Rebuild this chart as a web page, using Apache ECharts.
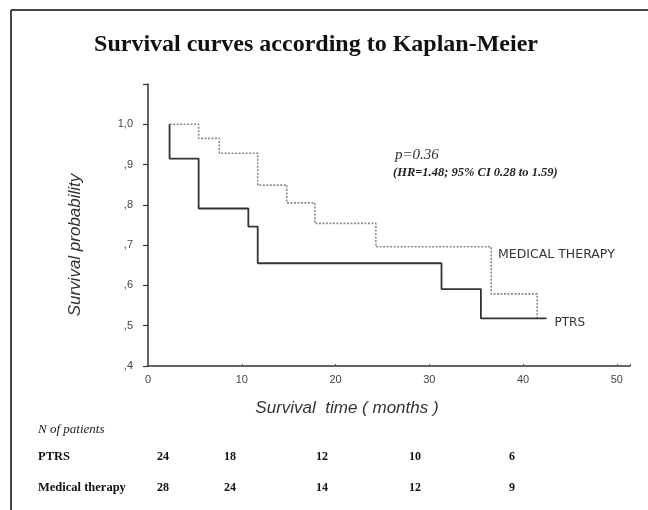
<!DOCTYPE html>
<html><head><meta charset="utf-8">
<script src="https://cdn.jsdelivr.net/npm/echarts@6/dist/echarts.min.js"></script>
<style>html,body{margin:0;padding:0;background:#fff}#c{width:648px;height:510px}</style>
</head><body><div id="c"></div>
<script>
// Kaplan-Meier step points [months, survival probability]
const ptrsCurve = [[2.3,1.0],[2.3,0.915],[5.4,0.791],[10.7,0.746],[11.7,0.655],[31.3,0.591],[35.5,0.518],[42.5,0.518]];
const medicalCurve = [[2.3,1.0],[5.4,0.965],[7.6,0.928],[11.7,0.849],[14.8,0.805],[17.8,0.754],[24.3,0.696],[36.6,0.579],[41.5,0.518]];
const seriesNames = ['PTRS','MEDICAL THERAPY'];
const tableRows = ['PTRS','Medical therapy'];
const ptrsAtRisk = [24,18,12,10,6];
const medicalAtRisk = [28,24,14,12,9];
const yTickLabels = {'0.4':',4','0.5':',5','0.6':',6','0.7':',7','0.8':',8','0.9':',9','1':'1,0'};

const chart = echarts.init(document.getElementById('c'));
const colX = [163,230,322,415,512];
const rowY = [457,488];
const graphics = [
  {type:'line', shape:{x1:11,y1:10,x2:648,y2:10}, style:{stroke:'#444',lineWidth:2}},
  {type:'line', shape:{x1:11,y1:10,x2:11,y2:510}, style:{stroke:'#444',lineWidth:2}},
  {type:'text', x:316, y:45, style:{text:'Survival curves according to Kaplan-Meier', font:'bold 24px "Liberation Serif"', fill:'#111', textAlign:'center', textVerticalAlign:'middle'}},
  {type:'text', x:395, y:155, style:{text:'p=0.36', font:'italic 15px "Liberation Serif"', fill:'#333', textAlign:'left', textVerticalAlign:'middle'}},
  {type:'text', x:393, y:173, style:{text:'(HR=1.48; 95% CI 0.28 to 1.59)', font:'italic bold 12.5px "Liberation Serif"', fill:'#222', textAlign:'left', textVerticalAlign:'middle'}},
  {type:'text', x:498, y:255, style:{text:'MEDICAL THERAPY', font:'12.5px "DejaVu Sans"', fill:'#333', textAlign:'left', textVerticalAlign:'middle'}},
  {type:'text', x:347, y:408, style:{text:'Survival  time ( months )', font:'italic 17px "Liberation Sans"', fill:'#333', textAlign:'center', textVerticalAlign:'middle'}},
  {type:'text', x:75, y:245, rotation:Math.PI/2, style:{text:'Survival probability', font:'italic 17px "Liberation Sans"', fill:'#333', textAlign:'center', textVerticalAlign:'middle'}},
  {type:'text', x:38, y:430, style:{text:'N of patients', font:'italic 13px "Liberation Serif"', fill:'#222', textAlign:'left', textVerticalAlign:'middle'}}
];
tableRows.forEach((r,i)=>{
  graphics.push({type:'text', x:38, y:rowY[i], style:{text:r, font:'bold 12.5px "Liberation Serif"', fill:'#111', textAlign:'left', textVerticalAlign:'middle'}});
  const vals = i===0?ptrsAtRisk:medicalAtRisk;
  vals.forEach((v,j)=>{
    graphics.push({type:'text', x:colX[j], y:rowY[i], style:{text:String(v), font:'bold 12px "Liberation Serif"', fill:'#111', textAlign:'center', textVerticalAlign:'middle'}});
  });
});

chart.setOption({
  animation:false,
  backgroundColor:'#fff',
  grid:{left:148, top:84, right:18, bottom:144, containLabel:false},
  xAxis:{type:'value', min:0, max:51.4, interval:10,
    axisLine:{lineStyle:{color:'#333', width:1.5}},
    axisTick:{show:true, inside:true, length:2, lineStyle:{color:'#555'}},
    axisLabel:{fontFamily:'Liberation Sans', fontSize:11, color:'#444', margin:8,
      formatter:v=> (Math.abs(v%10)<1e-6 ? String(v) : '')},
    splitLine:{show:false}},
  yAxis:{type:'value', min:0.4, max:1.1, interval:0.1,
    axisLine:{show:true, lineStyle:{color:'#333', width:1.5}},
    axisTick:{show:true, length:5, lineStyle:{color:'#333', width:1.2}},
    axisLabel:{fontFamily:'Liberation Sans', fontSize:11, color:'#444', margin:15,
      formatter:v=>{const k=String(Math.round(v*10)/10); return yTickLabels[k]||'';}},
    splitLine:{show:false}},
  series:[
    {name:seriesNames[1], type:'line', step:'end', data:medicalCurve, showSymbol:false, symbol:'none',
      lineStyle:{color:'#8a8a8a', width:1.6, type:[2,1.5]}},
    {name:seriesNames[0], type:'line', step:'end', data:ptrsCurve, showSymbol:false, symbol:'none',
      lineStyle:{color:'#333', width:1.8},
      endLabel:{show:true, formatter:seriesNames[0], fontFamily:'DejaVu Sans', fontSize:12, color:'#333', offset:[0,4]}}
  ],
  graphic:graphics
});
</script></body></html>
